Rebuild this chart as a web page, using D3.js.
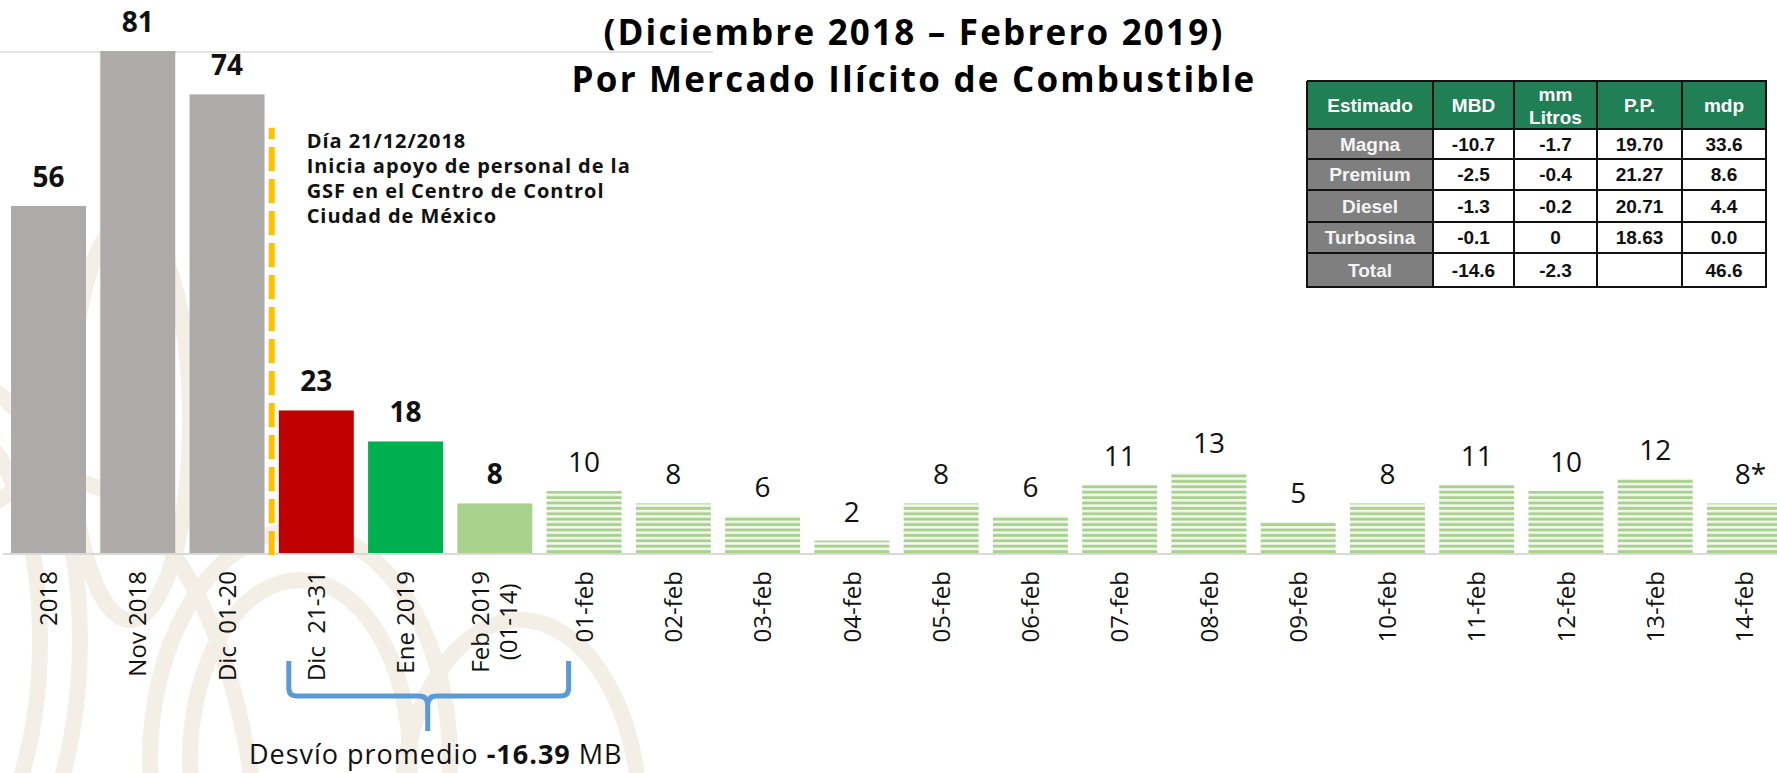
<!DOCTYPE html>
<html>
<head>
<meta charset="utf-8">
<script src="https://cdn.jsdelivr.net/npm/d3@7"></script>
<style>
    body { margin: 0; background: #fff; overflow: hidden; }
    svg { display: block; }
    text { font-family: "Open Sans", sans-serif; }
</style>
</head>
<body>
<svg id="chart" width="1777" height="773"></svg>
<script>
// categorias del eje (| = salto de linea)
var categories = ["2018", "Nov 2018", "Dic  01-20", "Dic  21-31", "Ene 2019", "Feb 2019|(01-14)",
    "01-feb", "02-feb", "03-feb", "04-feb", "05-feb", "06-feb", "07-feb", "08-feb", "09-feb",
    "10-feb", "11-feb", "12-feb", "13-feb", "14-feb"];
var values = [56, 81, 74, 23, 18, 8, 10, 8, 6, 2, 8, 6, 11, 13, 5, 8, 11, 10, 12, 8];
var valueLabels = ["56", "81", "74", "23", "18", "8", "10", "8", "6", "2", "8", "6", "11", "13", "5",
    "8", "11", "10", "12", "8*"];
var barKinds = ["gris", "gris", "gris", "rojo", "verde", "claro",
    "rayas", "rayas", "rayas", "rayas", "rayas", "rayas", "rayas", "rayas", "rayas",
    "rayas", "rayas", "rayas", "rayas", "rayas"];

// tabla de estimado
var tableHeader = ["Estimado", "MBD", "mm|Litros", "P.P.", "mdp"];
var tableRows = ["Magna", "Premium", "Diesel", "Turbosina", "Total"];
var colMBD = ["-10.7", "-2.5", "-1.3", "-0.1", "-14.6"];
var colLitros = ["-1.7", "-0.4", "-0.2", "0", "-2.3"];
var colPP = ["19.70", "21.27", "20.71", "18.63", ""];
var colMdp = ["33.6", "8.6", "4.4", "0.0", "46.6"];

var titleLines = ["(Diciembre 2018 \u2013 Febrero 2019)", "Por Mercado Il\u00edcito de Combustible"];
var noteLines = ["D\u00eda 21/12/2018", "Inicia apoyo de personal de la", "GSF en el Centro de Control", "Ciudad de M\u00e9xico"];

var colors = { gris: "#aeaaaa", rojo: "#c00000", verde: "#00b050", claro: "#a9d18e", rayas: "url(#rayas)" };

var svg = d3.select("#chart"),
    width = +svg.attr("width"),
    height = +svg.attr("height");

var x = d3.scaleBand()
    .domain(categories)
    .range([3, 1790])
    .paddingInner(0.16)
    .paddingOuter(0.09);

var y = d3.scaleLinear()
    .domain([0, 81])
    .range([553, 51]);

var defs = svg.append("defs");
var pat = defs.append("pattern")
    .attr("id", "rayas")
    .attr("patternUnits", "userSpaceOnUse")
    .attr("width", 20)
    .attr("height", 5.4)
    .attr("y", y(0));
pat.append("rect").attr("width", 20).attr("height", 5.4).attr("fill", "#f4f9f0");
pat.append("rect").attr("y", 2.5).attr("width", 20).attr("height", 2.9).attr("fill", "#a9d18e");

// marca de agua (fondo)
var wm = svg.append("g").attr("fill", "none").attr("stroke", "#f4efe6").attr("stroke-width", 16);
defs.append("clipPath").attr("id", "wmclip").append("rect")
    .attr("x", 0).attr("y", 53).attr("width", 713).attr("height", height);
wm.attr("clip-path", "url(#wmclip)");
[[-40, 640, 120, 260], [-40, 640, 80, 210], [300, 760, 150, 230], [300, 760, 110, 180],
 [520, 820, 120, 200], [130, 420, 60, 200], [60, 900, 200, 420]].forEach(function(e) {
    wm.append("ellipse").attr("cx", e[0]).attr("cy", e[1]).attr("rx", e[2]).attr("ry", e[3]);
});
svg.append("line")
    .attr("x1", 0).attr("x2", 713)
    .attr("y1", 52).attr("y2", 52)
    .attr("stroke", "#e4e4e4").attr("stroke-width", 2);

// linea base
svg.append("line")
    .attr("x1", 3).attr("x2", width)
    .attr("y1", y(0) + 1).attr("y2", y(0) + 1)
    .attr("stroke", "#d9d9d9").attr("stroke-width", 2);

// barras
svg.append("g").attr("class", "bars")
    .selectAll("rect")
    .data(values)
    .enter().append("rect")
    .attr("x", function(d, i) { return x(categories[i]); })
    .attr("y", function(d) { return y(d); })
    .attr("width", x.bandwidth())
    .attr("height", function(d) { return y(0) - y(d); })
    .attr("fill", function(d, i) { return colors[barKinds[i]]; });

// etiquetas de valor
svg.append("g").attr("class", "labels")
    .selectAll("text")
    .data(values)
    .enter().append("text")
    .attr("x", function(d, i) { return x(categories[i]) + x.bandwidth() / 2 + (valueLabels[i].indexOf("*") >= 0 ? 6 : 0); })
    .attr("y", function(d) { return y(d) - 19; })
    .attr("text-anchor", "middle")
    .attr("font-size", 28)
    .attr("font-weight", function(d, i) { return barKinds[i] == "rayas" ? 400 : 700; })
    .attr("fill", "#111")
    .text(function(d, i) { return valueLabels[i]; });

// eje x
var axis = svg.append("g")
    .attr("transform", "translate(0," + y(0) + ")")
    .call(d3.axisBottom(x).tickSize(0).tickFormat(""));
axis.select(".domain").remove();
axis.selectAll(".tick").each(function(cat) {
    var g = d3.select(this);
    var lines = cat.split("|");
    var txt = g.append("g").attr("transform", "rotate(-90)");
    var nodes = lines.map(function(l, k) {
        return txt.append("text")
            .attr("font-size", 24)
            .attr("fill", "#111")
            .attr("dy", "0.36em")
            .attr("y", (k - (lines.length - 1) / 2) * 28)
            .style("white-space", "pre")
            .text(l);
    });
    var maxLen = d3.max(nodes, function(n) { return n.node().getComputedTextLength(); });
    nodes.forEach(function(n) {
        n.attr("text-anchor", "middle").attr("x", -(18 + maxLen / 2));
    });
});

// linea amarilla punteada
var markX = x(categories[2]) + x.bandwidth() + x.step() * x.paddingInner() / 2;
svg.append("line")
    .attr("x1", markX).attr("x2", markX)
    .attr("y1", y(0) + 2).attr("y2", y(68.6))
    .attr("stroke", "#ffc000")
    .attr("stroke-width", 6)
    .attr("stroke-dasharray", "24,8");

// nota
svg.append("g").selectAll("text")
    .data(noteLines)
    .enter().append("text")
    .attr("x", markX + 35)
    .attr("y", function(d, i) { return 148 + i * 25; })
    .attr("font-size", 20)
    .attr("font-weight", 700)
    .attr("letter-spacing", 0.95)
    .attr("fill", "#111")
    .text(function(d) { return d; });

// titulo
svg.append("g").selectAll("text")
    .data(titleLines)
    .enter().append("text")
    .attr("x", 914)
    .attr("y", function(d, i) { return 45 + i * 47; })
    .attr("text-anchor", "middle")
    .attr("font-size", 35)
    .attr("font-weight", 700)
    .attr("letter-spacing", 2.2)
    .attr("fill", "#000")
    .text(function(d) { return d; });

// llave azul
var bl = x(categories[3]) + 10,
    br = x(categories[6]) + 22,
    bm = (bl + br) / 2 - 1,
    bt = 661, bh = 696, bb = 731;
svg.append("path")
    .attr("d", "M" + bl + "," + bt + "L" + bl + "," + (bh - 8) + "Q" + bl + "," + bh + " " + (bl + 8) + "," + bh +
        "L" + (bm - 9) + "," + bh + "Q" + bm + "," + bh + " " + bm + "," + (bh + 9) + "L" + bm + "," + bb +
        "M" + bm + "," + (bh + 9) + "Q" + bm + "," + bh + " " + (bm + 9) + "," + bh +
        "L" + (br - 8) + "," + bh + "Q" + br + "," + bh + " " + br + "," + (bh - 8) + "L" + br + "," + bt)
    .attr("fill", "none")
    .attr("stroke", "#5b9bd5")
    .attr("stroke-width", 5);

var desv = svg.append("text")
    .attr("x", bm + 8)
    .attr("y", 764)
    .attr("text-anchor", "middle")
    .attr("font-size", 27)
    .attr("letter-spacing", 1)
    .attr("fill", "#111");
desv.append("tspan").text("Desv\u00edo promedio ");
desv.append("tspan").attr("font-weight", 700).text("-16.39");
desv.append("tspan").text(" MB");

// tabla
var colEdges = [1307, 1433, 1514, 1597, 1682, 1766];
var rowEdges = [81, 129, 159, 190, 222, 253, 287];
var tableCols = [tableRows, colMBD, colLitros, colPP, colMdp];
var tbl = svg.append("g").attr("class", "tabla");

// encabezado
tableHeader.forEach(function(h, c) {
    tbl.append("rect")
        .attr("x", colEdges[c]).attr("y", rowEdges[0])
        .attr("width", colEdges[c + 1] - colEdges[c]).attr("height", rowEdges[1] - rowEdges[0])
        .attr("fill", "#217f55");
    var parts = h.split("|");
    parts.forEach(function(p, k) {
        tbl.append("text")
            .attr("x", (colEdges[c] + colEdges[c + 1]) / 2)
            .attr("y", (rowEdges[0] + rowEdges[1]) / 2 + 0.5 + (k - (parts.length - 1) / 2) * 23)
            .attr("dy", "0.35em")
            .attr("text-anchor", "middle")
            .attr("font-size", 19)
            .attr("font-weight", 700)
            .attr("fill", "#fff")
            .style("font-family", "'Liberation Sans', Arial, sans-serif")
            .text(p);
    });
});

// filas
tableRows.forEach(function(r, ri) {
    tableCols.forEach(function(col, c) {
        tbl.append("rect")
            .attr("x", colEdges[c]).attr("y", rowEdges[ri + 1])
            .attr("width", colEdges[c + 1] - colEdges[c]).attr("height", rowEdges[ri + 2] - rowEdges[ri + 1])
            .attr("fill", c == 0 ? "#7f7f7f" : "#fff");
        tbl.append("text")
            .attr("x", (colEdges[c] + colEdges[c + 1]) / 2)
            .attr("y", (rowEdges[ri + 1] + rowEdges[ri + 2]) / 2)
            .attr("dy", "0.36em")
            .attr("text-anchor", "middle")
            .attr("font-size", 19)
            .attr("font-weight", 700)
            .attr("fill", c == 0 ? "#f4f4f4" : "#111")
            .style("font-family", "'Liberation Sans', Arial, sans-serif")
            .text(col[ri]);
    });
});

// bordes
tbl.selectAll("line.h")
    .data(rowEdges)
    .enter().append("line")
    .attr("x1", colEdges[0]).attr("x2", colEdges[colEdges.length - 1] + 1)
    .attr("y1", function(d) { return d; }).attr("y2", function(d) { return d; })
    .attr("stroke", "#111").attr("stroke-width", 2);
tbl.selectAll("line.v")
    .data(colEdges)
    .enter().append("line")
    .attr("y1", rowEdges[0]).attr("y2", rowEdges[rowEdges.length - 1] + 1)
    .attr("x1", function(d) { return d; }).attr("x2", function(d) { return d; })
    .attr("stroke", "#111").attr("stroke-width", 2);
</script>
</body>
</html>
